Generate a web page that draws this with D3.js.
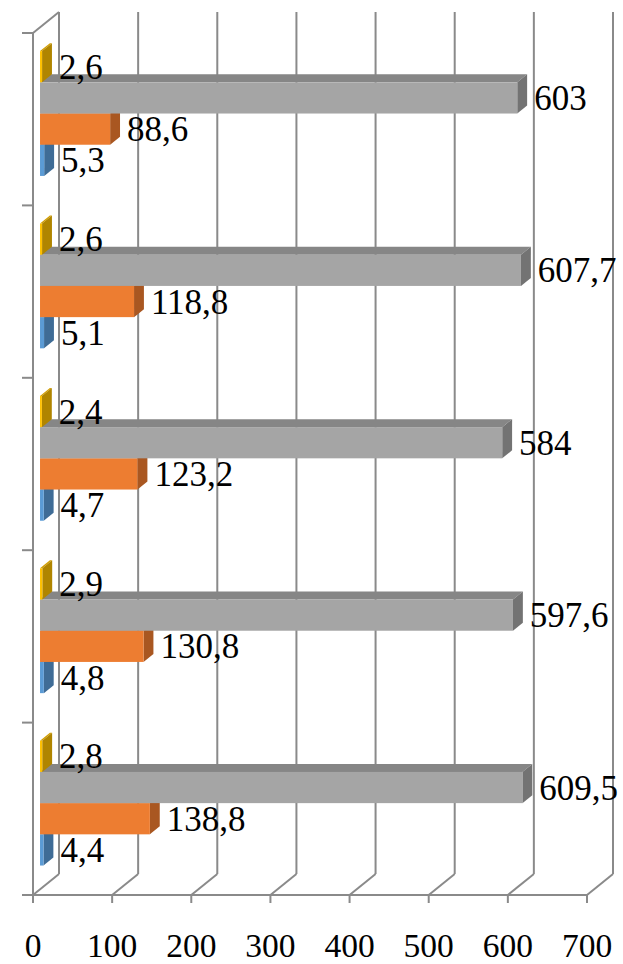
<!DOCTYPE html>
<html>
<head>
<meta charset="utf-8">
<script src="https://cdn.jsdelivr.net/npm/d3@7"></script>
<style>
  html, body { margin: 0; padding: 0; background: #fff; }
  svg { display: block; }
</style>
</head>
<body>
<svg id="chart" width="623" height="964"></svg>
<script>
// Categories, bottom group first
const categories = ["1", "2", "3", "4", "5"];
const seriesNames = ["Ряд 1", "Ряд 2", "Ряд 3", "Ряд 4"];
const series1 = [4.4, 4.8, 4.7, 5.1, 5.3];
const series2 = [138.8, 130.8, 123.2, 118.8, 88.6];
const series3 = [609.5, 597.6, 584, 607.7, 603];
const series4 = [2.8, 2.9, 2.4, 2.6, 2.6];
const xTicks = [0, 100, 200, 300, 400, 500, 600, 700];

const seriesValues = [series1, series2, series3, series4];
const colors = [
  { front: "#5B9BD5", top: "#4A7FB0", side: "#3F6C96" },
  { front: "#ED7D31", top: "#C46626", side: "#A95721" },
  { front: "#A5A5A5", top: "#868686", side: "#737373" },
  { front: "#FFC000", top: "#D29E00", side: "#B08500" }
];
const serif = "'Liberation Serif', 'DejaVu Serif', 'Times New Roman', serif";

const svg = d3.select("#chart");

// Plot geometry: front plane of the box and depth offset of the back wall
const depthX = 26, depthY = -21;
const x = d3.scaleLinear().domain([0, 700]).range([33, 587]);
const y = d3.scaleBand().domain(categories.slice().reverse()).range([33, 895]).padding(0);
const gridColor = "#8A8A8A";

// Bars sit in a slab between these depth fractions
const f1 = 0.27, f2 = 0.65;
const bdx = (f2 - f1) * depthX, bdy = (f2 - f1) * depthY;
const fx = f1 * depthX, fy = f1 * depthY;

const inner = d3.scaleBand().domain(d3.range(4).reverse())
  .range([y.bandwidth() * 0.138, y.bandwidth() * 0.862]).padding(0);

const fmt = v => String(v).replace(".", ",");

// Back wall gridlines and floor diagonals
const grid = svg.append("g");
xTicks.forEach(t => {
  const xf = x(t), xb = x(t) + depthX;
  grid.append("line").attr("x1", xb).attr("x2", xb)
    .attr("y1", 33 + depthY).attr("y2", 895 + depthY)
    .attr("stroke", gridColor).attr("stroke-width", 2);
  grid.append("line").attr("x1", xb).attr("y1", 895 + depthY)
    .attr("x2", xf).attr("y2", 895)
    .attr("stroke", gridColor).attr("stroke-width", 2);
  grid.append("line").attr("x1", xf).attr("x2", xf)
    .attr("y1", 895).attr("y2", 903)
    .attr("stroke", gridColor).attr("stroke-width", 2);
});

// Left wall edges and category ticks
grid.append("line").attr("x1", x(0)).attr("x2", x(0)).attr("y1", 33).attr("y2", 895)
  .attr("stroke", gridColor).attr("stroke-width", 2);
grid.append("line").attr("x1", x(0)).attr("y1", 33).attr("x2", x(0) + depthX).attr("y2", 33 + depthY)
  .attr("stroke", gridColor).attr("stroke-width", 2);
grid.append("line").attr("x1", 22).attr("x2", x(700)).attr("y1", 895).attr("y2", 895)
  .attr("stroke", gridColor).attr("stroke-width", 2);
const catEdges = categories.map(c => y(c)).concat([895]);
catEdges.forEach(v => {
  grid.append("line").attr("x1", 22).attr("x2", x(0)).attr("y1", v).attr("y2", v)
    .attr("stroke", gridColor).attr("stroke-width", 2);
});

// X axis labels
svg.append("g").selectAll("text").data(xTicks).join("text")
  .attr("x", d => x(d)).attr("y", 957)
  .attr("text-anchor", "middle")
  .attr("font-family", serif)
  .attr("font-size", 33.5)
  .attr("fill", "#000")
  .text(d => d);

// Bars: each drawn as front, top and right faces
const bars = svg.append("g");
const labels = svg.append("g");
categories.forEach((cat, ci) => {
  for (let s = 0; s < 4; s++) {
    const v = seriesValues[s][ci];
    const x0 = x(0) + fx, x1 = x(v) + fx;
    const yT = y(cat) + inner(s) + fy, yB = yT + inner.bandwidth();
    const c = colors[s];
    const g = bars.append("g");
    g.append("polygon")
      .attr("points", [[x0, yT], [x1, yT], [x1 + bdx, yT + bdy], [x0 + bdx, yT + bdy]].join(" "))
      .attr("fill", c.top);
    g.append("polygon")
      .attr("points", [[x1, yT], [x1 + bdx, yT + bdy], [x1 + bdx, yB + bdy], [x1, yB]].join(" "))
      .attr("fill", c.side);
    g.append("rect")
      .attr("x", x0).attr("y", yT)
      .attr("width", Math.max(0, x1 - x0)).attr("height", yB - yT)
      .attr("fill", c.front);
    labels.append("text")
      .attr("x", x1 + bdx + 7)
      .attr("y", (yT + yB) / 2 + 12)
      .attr("font-family", serif)
      .attr("font-size", 35)
      .attr("fill", "#000")
      .text(fmt(v));
  }
});
</script>
</body>
</html>
